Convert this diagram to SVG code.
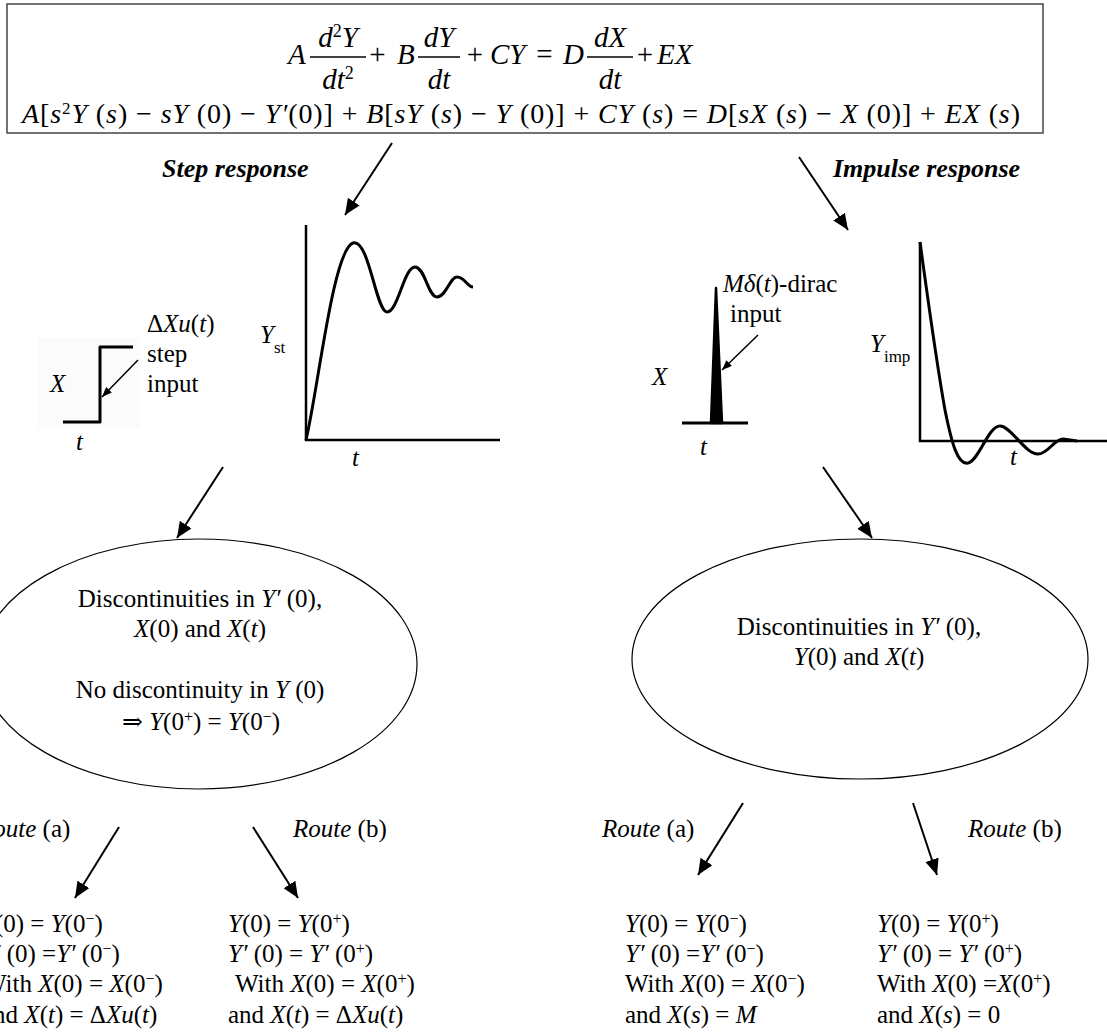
<svg xmlns="http://www.w3.org/2000/svg" width="1107" height="1034" viewBox="0 0 1107 1034">
<style>
text{font-family:"Liberation Serif","Times New Roman","DejaVu Serif",serif;fill:#000;font-size:25px}
.i{font-style:italic}
.eq{font-size:29px}
.eq2{font-size:28px}
.bi{font-style:italic;font-weight:bold;font-size:26px}
.sup{font-size:16px;baseline-shift:super}
.sub{font-size:17px;baseline-shift:sub}
.mid{text-anchor:middle}
.ax{fill:none;stroke:#000;stroke-width:2.5}
.cv{fill:none;stroke:#000;stroke-width:3;stroke-linejoin:round}
.ar{stroke:#000;stroke-width:2;fill:none;marker-end:url(#ah)}
.ars{stroke:#000;stroke-width:1.5;fill:none;marker-end:url(#ahs)}
.fb{stroke:#000;stroke-width:1.4}
.el{fill:none;stroke:#000;stroke-width:1.2}
</style>
<defs>
<marker id="ah" viewBox="0 0 16 14" refX="16" refY="7" markerWidth="16" markerHeight="14" markerUnits="userSpaceOnUse" orient="auto"><path d="M0,0 L16,7 L0,14 z" fill="#000"/></marker>
<marker id="ahs" viewBox="0 0 10 8" refX="10" refY="4" markerWidth="10" markerHeight="8" markerUnits="userSpaceOnUse" orient="auto"><path d="M0,0 L10,4 L0,8 z" fill="#000"/></marker>
</defs>
<rect width="1107" height="1034" fill="#fff"/>

<g id="eq-box">
<rect x="7" y="4" width="1036" height="129" fill="#fff" stroke="#444" stroke-width="1.5"/>
<text class="eq i" x="288" y="64">A</text>
<line class="fb" x1="310" y1="57" x2="366" y2="57"/>
<text class="eq mid" x="338" y="47"><tspan class="i">d</tspan><tspan font-size="18" baseline-shift="super">2</tspan><tspan class="i">Y</tspan></text>
<text class="eq mid" x="338" y="89"><tspan class="i">dt</tspan><tspan font-size="18" baseline-shift="super">2</tspan></text>
<text class="eq mid" x="377.5" y="64">+</text>
<text class="eq i" x="397" y="64">B</text>
<line class="fb" x1="418" y1="57" x2="460" y2="57"/>
<text class="eq mid i" x="439" y="47">dY</text>
<text class="eq mid i" x="439" y="89">dt</text>
<text class="eq mid" x="475" y="64">+</text>
<text class="eq i" x="490" y="64">CY</text>
<text class="eq mid" x="544.5" y="64">=</text>
<text class="eq i" x="563" y="64">D</text>
<line class="fb" x1="587" y1="57" x2="633" y2="57"/>
<text class="eq mid i" x="610" y="47">dX</text>
<text class="eq mid i" x="610" y="89">dt</text>
<text class="eq mid" x="645" y="64">+</text>
<text class="eq i" x="657" y="64">EX</text>
<text class="eq2" x="22" y="123" textLength="998" lengthAdjust="spacing"><tspan class="i">A</tspan>[<tspan class="i">s</tspan><tspan font-size="17" baseline-shift="super">2</tspan><tspan class="i">Y</tspan> (<tspan class="i">s</tspan>) − <tspan class="i">sY</tspan> (0) − <tspan class="i">Y′</tspan>(0)] + <tspan class="i">B</tspan>[<tspan class="i">sY</tspan> (<tspan class="i">s</tspan>) − <tspan class="i">Y</tspan> (0)] + <tspan class="i">CY</tspan> (<tspan class="i">s</tspan>) = <tspan class="i">D</tspan>[<tspan class="i">sX</tspan> (<tspan class="i">s</tspan>) − <tspan class="i">X</tspan> (0)] + <tspan class="i">EX</tspan> (<tspan class="i">s</tspan>)</text>
</g>

<g id="label-step"><text class="bi" x="162" y="177">Step response</text></g>
<g id="label-impulse"><text class="bi" x="833" y="177">Impulse response</text></g>

<g id="step-input">
<rect x="38" y="338" width="102" height="90" fill="#fbfbfb"/>
<path class="cv" d="M63,422 H100 V347 H133"/>
<text class="i" x="50" y="392">X</text>
<text class="i" x="76" y="450">t</text>
<text x="147" y="332">Δ<tspan class="i">Xu</tspan>(<tspan class="i">t</tspan>)</text>
<text x="147" y="362">step</text>
<text x="147" y="392">input</text>
<line class="ars" x1="138" y1="360" x2="102" y2="397"/>
</g>

<g id="step-plot">
<path class="ax" d="M306,225 V440 H500"/>
<path class="cv" d="M306,440 C318,390 333,250 353,243 C369,238 376,312 387,312 C398,312 404,267 415,267 C425,267 428,297 437,297 C446,297 450,277 457,277 C465,277 467,287 473,287"/>
<text class="i" x="260" y="343">Y<tspan class="sub" font-style="normal">st</tspan></text>
<text class="i" x="352" y="466">t</text>
</g>

<g id="impulse-input">
<path class="cv" d="M682,423 H748"/>
<path d="M711,423 L716,288 L722,423 z" fill="#000" stroke="#000" stroke-width="2.5" stroke-linejoin="round"/>
<text class="i" x="652" y="385">X</text>
<text class="i" x="700" y="455">t</text>
<text x="723" y="292"><tspan class="i">Mδ</tspan>(<tspan class="i">t</tspan>)-dirac</text>
<text x="730" y="322">input</text>
<line class="ars" x1="758" y1="335" x2="722" y2="370"/>
</g>

<g id="impulse-plot">
<path class="ax" d="M920,242 V441 H1107"/>
<path class="cv" d="M920,242 C928,300 936,360 945,410 C952,445 958,465 968,463 C979,461 988,426 1000,426 C1011,426 1025,454 1038,454 C1048,454 1054,439 1063,439 L1077,441"/>
<text class="i" x="870" y="352">Y<tspan class="sub" font-style="normal">imp</tspan></text>
<text class="i" x="1010" y="465">t</text>
</g>

<g id="ellipse-step">
<ellipse class="el" cx="199" cy="664" rx="218" ry="125"/>
<text class="mid" x="200" y="607">Discontinuities in <tspan class="i">Y′</tspan> (0),</text>
<text class="mid" x="200" y="637"><tspan class="i">X</tspan>(0) and <tspan class="i">X</tspan>(<tspan class="i">t</tspan>)</text>
<text class="mid" x="200" y="698">No discontinuity in <tspan class="i">Y</tspan> (0)</text>
<text class="mid" x="201" y="730">⇒ <tspan class="i">Y</tspan>(0<tspan class="sup">+</tspan>) = <tspan class="i">Y</tspan>(0<tspan class="sup">−</tspan>)</text>
</g>

<g id="ellipse-impulse">
<ellipse class="el" cx="860" cy="659" rx="228" ry="120"/>
<text class="mid" x="859" y="635">Discontinuities in <tspan class="i">Y′</tspan> (0),</text>
<text class="mid" x="859" y="665"><tspan class="i">Y</tspan>(0) and <tspan class="i">X</tspan>(<tspan class="i">t</tspan>)</text>
</g>

<g id="route-labels">
<text x="-22" y="837"><tspan class="i">Route</tspan> (a)</text>
<text x="293" y="837"><tspan class="i">Route</tspan> (b)</text>
<text x="602" y="837"><tspan class="i">Route</tspan> (a)</text>
<text x="968" y="837"><tspan class="i">Route</tspan> (b)</text>
</g>

<g id="step-route-a">
<text x="-19" y="932"><tspan class="i">Y</tspan>(0) = <tspan class="i">Y</tspan>(0<tspan class="sup">−</tspan>)</text>
<text x="-19" y="962"><tspan class="i">Y′</tspan> (0) =<tspan class="i">Y′</tspan> (0<tspan class="sup">−</tspan>)</text>
<text x="-17" y="992">With <tspan class="i">X</tspan>(0) = <tspan class="i">X</tspan>(0<tspan class="sup">−</tspan>)</text>
<text x="-18" y="1023">and <tspan class="i">X</tspan>(<tspan class="i">t</tspan>) = Δ<tspan class="i">Xu</tspan>(<tspan class="i">t</tspan>)</text>
</g>

<g id="step-route-b">
<text x="228" y="932"><tspan class="i">Y</tspan>(0) = <tspan class="i">Y</tspan>(0<tspan class="sup">+</tspan>)</text>
<text x="228" y="962"><tspan class="i">Y′</tspan> (0) = <tspan class="i">Y′</tspan> (0<tspan class="sup">+</tspan>)</text>
<text x="235" y="992">With <tspan class="i">X</tspan>(0) = <tspan class="i">X</tspan>(0<tspan class="sup">+</tspan>)</text>
<text x="228" y="1023">and <tspan class="i">X</tspan>(<tspan class="i">t</tspan>) = Δ<tspan class="i">Xu</tspan>(<tspan class="i">t</tspan>)</text>
</g>

<g id="impulse-route-a">
<text x="625" y="932"><tspan class="i">Y</tspan>(0) = <tspan class="i">Y</tspan>(0<tspan class="sup">−</tspan>)</text>
<text x="625" y="962"><tspan class="i">Y′</tspan> (0) =<tspan class="i">Y′</tspan> (0<tspan class="sup">−</tspan>)</text>
<text x="625" y="992">With <tspan class="i">X</tspan>(0) = <tspan class="i">X</tspan>(0<tspan class="sup">−</tspan>)</text>
<text x="625" y="1023">and <tspan class="i">X</tspan>(<tspan class="i">s</tspan>) = <tspan class="i">M</tspan></text>
</g>

<g id="impulse-route-b">
<text x="877" y="932"><tspan class="i">Y</tspan>(0) = <tspan class="i">Y</tspan>(0<tspan class="sup">+</tspan>)</text>
<text x="877" y="962"><tspan class="i">Y′</tspan> (0) = <tspan class="i">Y′</tspan> (0<tspan class="sup">+</tspan>)</text>
<text x="877" y="992">With <tspan class="i">X</tspan>(0) =<tspan class="i">X</tspan>(0<tspan class="sup">+</tspan>)</text>
<text x="877" y="1023">and <tspan class="i">X</tspan>(<tspan class="i">s</tspan>) = 0</text>
</g>

<g id="connectors">
<line class="ar" x1="392" y1="143" x2="345" y2="215"/>
<line class="ar" x1="799" y1="157" x2="848" y2="230"/>
<line class="ar" x1="223" y1="467" x2="177" y2="538"/>
<line class="ar" x1="823" y1="467" x2="872" y2="538"/>
<line class="ar" x1="119" y1="827" x2="75" y2="898"/>
<line class="ar" x1="253" y1="827" x2="298" y2="898"/>
<line class="ar" x1="743" y1="803" x2="698" y2="875"/>
<line class="ar" x1="913" y1="803" x2="937" y2="875"/>
</g>
</svg>
